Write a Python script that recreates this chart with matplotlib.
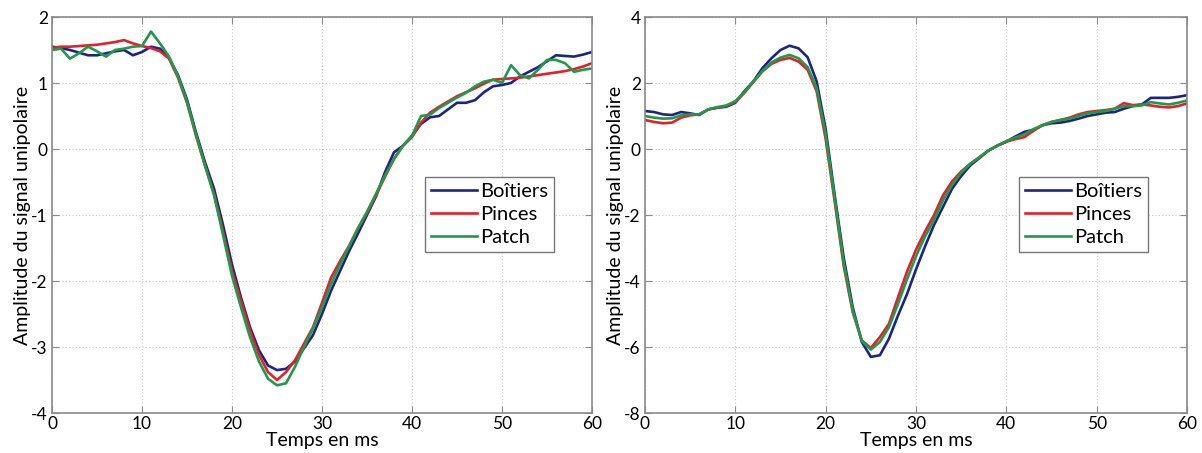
import matplotlib.pyplot as plt
import numpy as np

plt.rcParams["font.family"] = ["Lato", "DejaVu Sans"]
plt.rcParams["axes.unicode_minus"] = False

t = np.arange(0, 61)

# panneau de gauche
left_boitiers = [1.55, 1.53, 1.50, 1.46, 1.42, 1.42, 1.45, 1.48, 1.50, 1.42,
                 1.47, 1.55, 1.52, 1.38, 1.12, 0.75, 0.25, -0.20, -0.60, -1.15,
                 -1.75, -2.25, -2.70, -3.05, -3.28, -3.35, -3.33, -3.22, -3.02, -2.82,
                 -2.50, -2.15, -1.85, -1.55, -1.28, -1.00, -0.72, -0.35, -0.05, 0.05,
                 0.20, 0.38, 0.48, 0.50, 0.60, 0.70, 0.70, 0.74, 0.86, 0.95,
                 0.97, 1.00, 1.10, 1.17, 1.24, 1.33, 1.42, 1.41, 1.40, 1.43,
                 1.47]
left_pinces = [1.53, 1.55, 1.55, 1.56, 1.57, 1.58, 1.60, 1.62, 1.65, 1.60,
               1.56, 1.53, 1.48, 1.37, 1.08, 0.70, 0.20, -0.25, -0.68, -1.25,
               -1.85, -2.30, -2.75, -3.12, -3.38, -3.50, -3.38, -3.20, -2.95, -2.70,
               -2.33, -1.95, -1.70, -1.47, -1.20, -0.97, -0.70, -0.42, -0.15, 0.05,
               0.18, 0.40, 0.55, 0.64, 0.72, 0.80, 0.86, 0.92, 0.99, 1.05,
               1.06, 1.07, 1.08, 1.10, 1.12, 1.14, 1.16, 1.18, 1.21, 1.25,
               1.30]
left_patch = [1.50, 1.52, 1.37, 1.45, 1.55, 1.48, 1.40, 1.50, 1.52, 1.55,
              1.56, 1.78, 1.60, 1.40, 1.10, 0.72, 0.22, -0.25, -0.70, -1.30,
              -1.92, -2.40, -2.85, -3.22, -3.48, -3.58, -3.55, -3.30, -3.00, -2.72,
              -2.40, -2.05, -1.75, -1.48, -1.20, -0.95, -0.68, -0.40, -0.15, 0.05,
              0.20, 0.50, 0.52, 0.62, 0.70, 0.78, 0.85, 0.95, 1.02, 1.05,
              1.00, 1.27, 1.12, 1.07, 1.20, 1.35, 1.35, 1.30, 1.17, 1.20,
              1.22]

# panneau de droite
right_boitiers = [1.15, 1.12, 1.05, 1.03, 1.12, 1.08, 1.03, 1.20, 1.25, 1.28,
                  1.40, 1.75, 2.05, 2.45, 2.75, 3.00, 3.13, 3.05, 2.78, 2.05,
                  0.60, -1.40, -3.30, -4.80, -5.85, -6.30, -6.25, -5.75, -5.05, -4.40,
                  -3.65, -2.95, -2.30, -1.75, -1.20, -0.82, -0.50, -0.28, -0.05, 0.10,
                  0.22, 0.38, 0.52, 0.58, 0.72, 0.78, 0.80, 0.85, 0.92, 1.00,
                  1.05, 1.10, 1.12, 1.22, 1.30, 1.35, 1.55, 1.55, 1.55, 1.58,
                  1.63]
right_pinces = [0.88, 0.82, 0.78, 0.80, 0.95, 1.02, 1.05, 1.20, 1.25, 1.30,
                1.42, 1.70, 2.03, 2.35, 2.58, 2.70, 2.76, 2.65, 2.40, 1.75,
                0.30, -1.60, -3.55, -4.95, -5.80, -6.03, -5.70, -5.30, -4.50, -3.72,
                -3.05, -2.50, -2.00, -1.40, -0.98, -0.68, -0.45, -0.26, -0.05, 0.10,
                0.22, 0.30, 0.36, 0.55, 0.72, 0.82, 0.88, 0.95, 1.05, 1.12,
                1.15, 1.18, 1.22, 1.39, 1.33, 1.35, 1.32, 1.28, 1.26, 1.30,
                1.38]
right_patch = [1.00, 0.95, 0.92, 0.93, 1.02, 1.05, 1.05, 1.20, 1.27, 1.32,
               1.45, 1.72, 2.05, 2.37, 2.62, 2.77, 2.85, 2.75, 2.48, 1.85,
               0.45, -1.50, -3.45, -4.90, -5.82, -6.08, -5.85, -5.40, -4.70, -3.95,
               -3.25, -2.65, -2.15, -1.55, -1.08, -0.72, -0.45, -0.25, -0.05, 0.10,
               0.24, 0.35, 0.45, 0.60, 0.72, 0.82, 0.88, 0.92, 1.00, 1.08,
               1.12, 1.15, 1.22, 1.30, 1.30, 1.32, 1.42, 1.38, 1.35, 1.40,
               1.47]

labels = ["Boîtiers", "Pinces", "Patch"]
colors = ["#1c2587", "#e3202b", "#1f9a48"]

fig = plt.figure(figsize=(12.02, 4.53), dpi=100)
ax1 = fig.add_axes([52 / 1202, 40 / 453, 540 / 1202, 396 / 453])
ax2 = fig.add_axes([645 / 1202, 40 / 453, 542 / 1202, 396 / 453])

panels = [
    (ax1, [left_boitiers, left_pinces, left_patch], (-4, 2), range(-4, 3)),
    (ax2, [right_boitiers, right_pinces, right_patch], (-8, 4), range(-8, 5, 2)),
]

for ax, series, ylim, yticks in panels:
    for y, lab, c in zip(series, labels, colors):
        ax.plot(t, y, color=c, lw=1.9, label=lab)
    ax.set_xlim(0, 60)
    ax.set_ylim(*ylim)
    ax.set_xticks(range(0, 61, 10))
    ax.set_yticks(list(yticks))
    ax.grid(True, linestyle=(0, (1, 2)), color="#c8c8c8", lw=0.8)
    ax.tick_params(direction="in", length=5, top=True, right=True,
                   color="#8a8a8a", labelsize=12.5)
    ax.tick_params(axis="x", pad=2)
    ax.tick_params(axis="y", pad=3)
    for sp in ax.spines.values():
        sp.set_color("#8a8a8a")
        sp.set_linewidth(1.2)
    ax.set_xlabel("Temps en ms", fontsize=14, labelpad=0)
    ax.set_ylabel("Amplitude du signal unipolaire", fontsize=14, labelpad=0)
    leg = ax.legend(loc="upper left", bbox_to_anchor=(0.69, 0.597),
                    borderaxespad=0, fancybox=False, fontsize=14.5,
                    handlelength=2.3, handletextpad=0.15, labelspacing=0.3,
                    borderpad=0.3, framealpha=1)
    leg.get_frame().set_edgecolor("#777777")
    leg.get_frame().set_linewidth(1.0)

fig.savefig("out.png", dpi=100)
